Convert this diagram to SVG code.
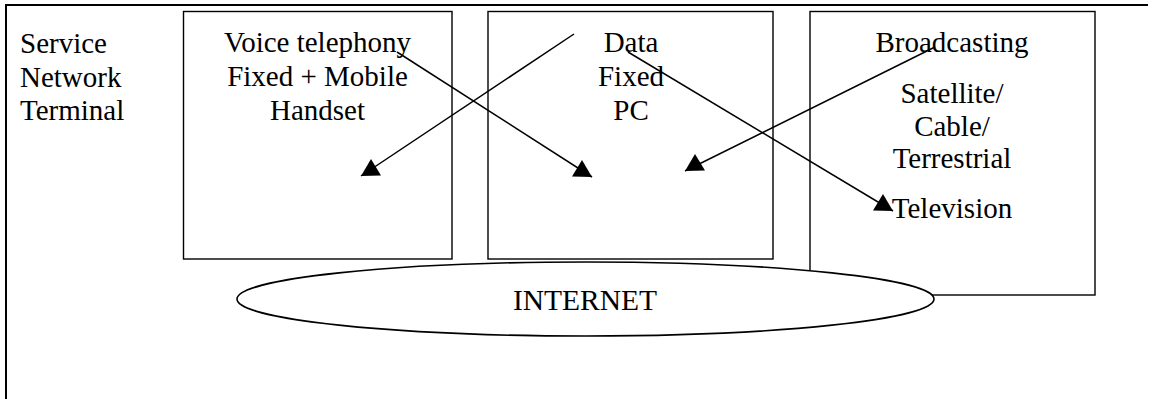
<svg xmlns="http://www.w3.org/2000/svg" width="1153" height="399" viewBox="0 0 1153 399">
  <style>
    .frame { fill: none; stroke: #000; stroke-width: 2; }
    .box { fill: #fff; stroke: #000; stroke-width: 1.4; }
    .cloud { fill: #fff; stroke: #000; stroke-width: 1.6; }
    .lbl { font-family: "Liberation Serif", "Times New Roman", serif; font-size: 29px; fill: #000; }
    .mid { text-anchor: middle; }
    .link { fill: none; stroke: #000; stroke-width: 1.5; }
    .head { fill: #000; }
  </style>
  <defs>
    <!-- arrowheads keep a flat base; tip at the lower-left or lower-right corner -->
    <marker id="tip-left" markerUnits="userSpaceOnUse" viewBox="0 0 21 18" markerWidth="21" markerHeight="18" refX="0.5" refY="17.5" orient="0" overflow="visible">
      <polygon class="head" points="0.5,17.5 20.5,17 10.5,0.5"/>
    </marker>
    <marker id="tip-right" markerUnits="userSpaceOnUse" viewBox="0 0 21 18" markerWidth="21" markerHeight="18" refX="20.5" refY="17.5" orient="0" overflow="visible">
      <polygon class="head" points="0.5,17 20.5,17.5 10.5,0.5"/>
    </marker>
  </defs>

  <rect width="1153" height="399" fill="#fff"/>

  <!-- outer frame -->
  <path class="frame" d="M6,399 V5 H1148"/>

  <g id="legend">
    <text class="lbl" x="20" y="53">Service</text>
    <text class="lbl" x="20" y="87">Network</text>
    <text class="lbl" x="20" y="120">Terminal</text>
  </g>

  <g id="voice">
    <rect class="box" x="183.5" y="11.5" width="268.5" height="247.5"/>
    <text class="lbl mid" x="317.5" y="52">Voice telephony</text>
    <text class="lbl mid" x="317.5" y="86">Fixed + Mobile</text>
    <text class="lbl mid" x="317.5" y="120">Handset</text>
  </g>

  <g id="data">
    <rect class="box" x="488" y="11.5" width="285" height="247.5"/>
    <text class="lbl mid" x="631" y="52">Data</text>
    <text class="lbl mid" x="631" y="86">Fixed</text>
    <text class="lbl mid" x="631" y="120">PC</text>
  </g>

  <g id="broadcasting">
    <rect class="box" x="810" y="11.5" width="285" height="283.5"/>
    <text class="lbl mid" x="952" y="52">Broadcasting</text>
    <text class="lbl mid" x="952" y="103">Satellite/</text>
    <text class="lbl mid" x="952" y="136">Cable/</text>
    <text class="lbl mid" x="952" y="168">Terrestrial</text>
    <text class="lbl mid" x="952" y="218">Television</text>
  </g>

  <g id="internet">
    <ellipse class="cloud" cx="585.5" cy="299" rx="348.5" ry="37"/>
    <text class="lbl mid" x="585" y="310" style="font-size:29.5px">INTERNET</text>
  </g>

  <g id="connectors">
    <line class="link" x1="574" y1="34" x2="361" y2="176" marker-end="url(#tip-left)"/>
    <line class="link" x1="397" y1="52" x2="592" y2="177" marker-end="url(#tip-right)"/>
    <line class="link" x1="935" y1="47" x2="685" y2="171" marker-end="url(#tip-left)"/>
    <line class="link" x1="628" y1="52" x2="893" y2="211" marker-end="url(#tip-right)"/>
  </g>
</svg>
